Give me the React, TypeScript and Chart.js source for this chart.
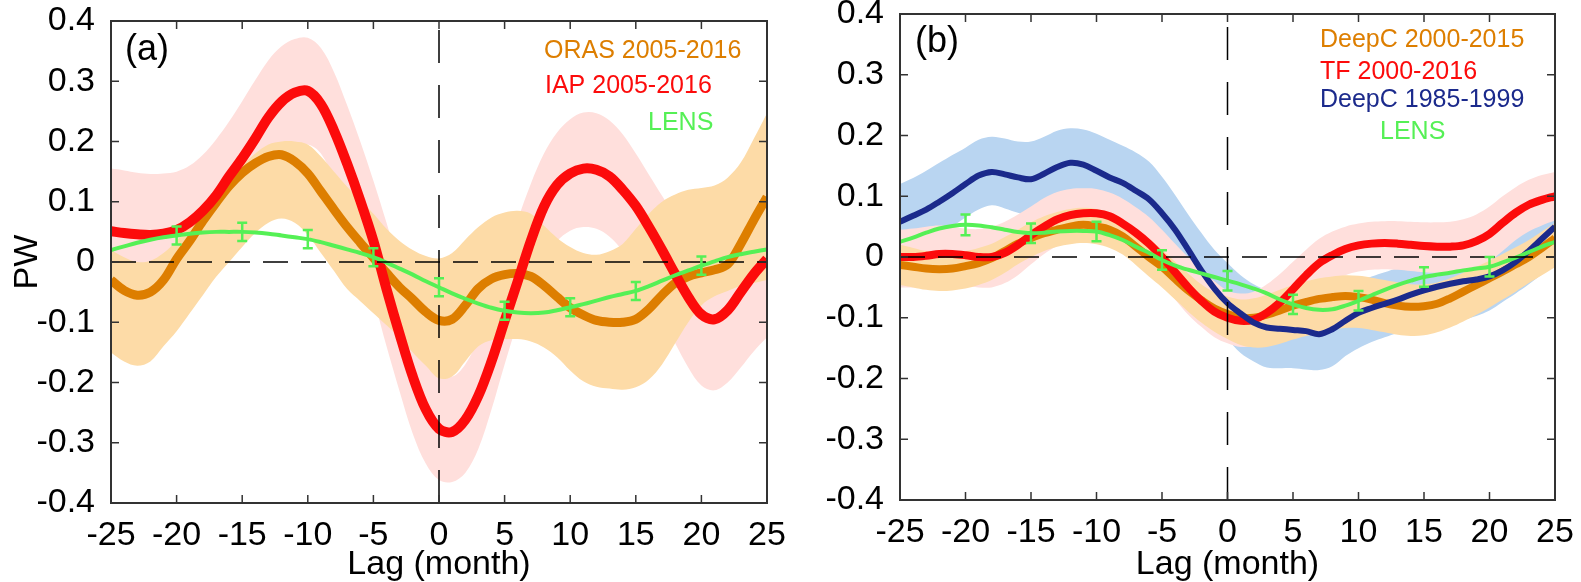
import React, { useEffect, useRef } from 'react';
import { Chart, registerables } from 'chart.js';

Chart.register(...registerables);

// Lag axis (months)
const LAGS = [
  -25, -24, -23, -22, -21, -20, -19, -18, -17, -16, -15, -14, -13, -12, -11, -10, -9, -8, -7, -6, -5, -4, -3, -2, -1,
  0, 1, 2, 3, 4, 5, 6, 7, 8, 9, 10, 11, 12, 13, 14, 15, 16, 17, 18, 19, 20, 21, 22, 23, 24, 25,
];
const X_TICK_VALUES = [-25, -20, -15, -10, -5, 0, 5, 10, 15, 20, 25];
const X_TICK_LABELS = ['-25', '-20', '-15', '-10', '-5', '0', '5', '10', '15', '20', '25'];
const Y_TICK_VALUES = [-0.4, -0.3, -0.2, -0.1, 0, 0.1, 0.2, 0.3, 0.4];
const Y_TICK_LABELS = ['-0.4', '-0.3', '-0.2', '-0.1', '0', '0.1', '0.2', '0.3', '0.4'];
const ERR_LAGS = [-20, -15, -10, -5, 0, 5, 10, 15, 20];

// ---- Panel (a) ----
const ORAS_A = [
  -0.03, -0.047, -0.055, -0.05, -0.03, 0.005, 0.035, 0.068, 0.098, 0.126, 0.148, 0.164, 0.175, 0.178, 0.167, 0.147,
  0.117, 0.087, 0.058, 0.032, 0.007, -0.018, -0.042, -0.062, -0.083, -0.097, -0.095, -0.072, -0.044, -0.028, -0.021,
  -0.019, -0.024, -0.039, -0.058, -0.076, -0.088, -0.097, -0.1, -0.1, -0.095, -0.078, -0.055, -0.035, -0.024, -0.018,
  -0.013, -0.004, 0.03, 0.07, 0.108,
];
const ORAS_A_HI = [
  0.02, 0.008, 0.0, 0.002, 0.015, 0.035, 0.06, 0.085, 0.11, 0.135, 0.16, 0.18, 0.195, 0.2, 0.2, 0.195, 0.175, 0.15,
  0.125, 0.103, 0.08, 0.055, 0.035, 0.02, 0.01, 0.006, 0.015, 0.037, 0.058, 0.074, 0.082, 0.085, 0.08, 0.06, 0.04,
  0.025, 0.015, 0.012, 0.018, 0.03, 0.055, 0.08, 0.1, 0.112, 0.12, 0.123, 0.127, 0.14, 0.165, 0.205, 0.247,
];
const ORAS_A_LO = [
  -0.15, -0.165, -0.172, -0.165, -0.14, -0.115, -0.085, -0.055, -0.025, 0.0, 0.025, 0.048, 0.065, 0.072, 0.065, 0.045,
  0.015, -0.015, -0.045, -0.065, -0.085, -0.105, -0.125, -0.15, -0.172, -0.193, -0.19, -0.165, -0.14, -0.13, -0.128,
  -0.128, -0.132, -0.142, -0.158, -0.18, -0.198, -0.207, -0.21, -0.212, -0.208, -0.195, -0.17, -0.135, -0.1, -0.072,
  -0.057, -0.048, -0.04, -0.035, -0.03,
];
const IAP_A = [
  0.051, 0.048, 0.046, 0.045, 0.047, 0.053, 0.066, 0.085, 0.11, 0.142, 0.172, 0.205, 0.24, 0.266, 0.281, 0.284, 0.262,
  0.218, 0.163, 0.102, 0.035, -0.045, -0.12, -0.19, -0.245, -0.277, -0.282, -0.262, -0.222, -0.165, -0.098, -0.032,
  0.035, 0.092, 0.128, 0.147, 0.155, 0.153, 0.142, 0.12, 0.093, 0.058, 0.02, -0.02, -0.058, -0.087, -0.095, -0.08,
  -0.05, -0.02, 0.005,
];
const IAP_A_HI = [
  0.155, 0.152, 0.148, 0.146, 0.147, 0.15, 0.16, 0.178, 0.203, 0.233, 0.267, 0.302, 0.335, 0.358, 0.37, 0.372, 0.355,
  0.315, 0.26, 0.2, 0.135, 0.065, -0.01, -0.08, -0.14, -0.18, -0.19, -0.17, -0.128, -0.07, 0.0, 0.07, 0.13, 0.18, 0.215,
  0.237, 0.248, 0.247, 0.235, 0.212, 0.18, 0.145, 0.11, 0.075, 0.04, 0.015, 0.01, 0.025, 0.05, 0.08, 0.1,
];
const IAP_A_LO = [
  -0.05, -0.055, -0.058, -0.058, -0.055, -0.048, -0.035, -0.015, 0.012, 0.045, 0.08, 0.112, 0.145, 0.172, 0.19, 0.195,
  0.18, 0.135, 0.075, 0.01, -0.06, -0.14, -0.215, -0.285, -0.335, -0.362, -0.365, -0.35, -0.31, -0.245, -0.17, -0.1,
  -0.04, 0.005, 0.035, 0.052, 0.058, 0.055, 0.042, 0.018, -0.015, -0.055, -0.095, -0.135, -0.175, -0.205, -0.213, -0.2,
  -0.175, -0.148, -0.125,
];
const LENS_A = [
  0.02, 0.026, 0.032, 0.037, 0.041, 0.044, 0.047, 0.049, 0.05, 0.05, 0.05, 0.049, 0.047, 0.044, 0.041, 0.038, 0.033,
  0.027, 0.021, 0.015, 0.008, -0.001, -0.011, -0.021, -0.032, -0.042, -0.052, -0.061, -0.069, -0.076, -0.081, -0.084,
  -0.085, -0.084, -0.08, -0.075, -0.07, -0.064, -0.058, -0.053, -0.048, -0.04, -0.031, -0.022, -0.014, -0.006, 0.001,
  0.008, 0.013, 0.017, 0.021,
];
const LENS_A_ERR = [0.015, 0.015, 0.015, 0.015, 0.015, 0.015, 0.015, 0.015, 0.015];

// ---- Panel (b) ----
const DEEPC_B = [
  -0.013, -0.016, -0.019, -0.02, -0.019, -0.015, -0.01, -0.002, 0.01, 0.022, 0.031, 0.039, 0.045, 0.05, 0.053, 0.05,
  0.045, 0.034, 0.017, 0.0, -0.016, -0.036, -0.055, -0.071, -0.085, -0.094, -0.1, -0.1, -0.095, -0.088, -0.08, -0.074,
  -0.069, -0.066, -0.064, -0.066, -0.07, -0.076, -0.08, -0.082, -0.081, -0.077, -0.068, -0.057, -0.046, -0.035, -0.024,
  -0.012, 0.0, 0.015, 0.031,
];
const DEEPC_B_HI = [
  0.02, 0.015, 0.01, 0.008, 0.008, 0.01, 0.015, 0.022, 0.033, 0.045, 0.057, 0.067, 0.074, 0.079, 0.081, 0.079, 0.073,
  0.062, 0.047, 0.03, 0.012, -0.008, -0.027, -0.045, -0.058, -0.065, -0.07, -0.068, -0.062, -0.054, -0.046, -0.04,
  -0.035, -0.032, -0.03, -0.031, -0.034, -0.038, -0.042, -0.045, -0.045, -0.042, -0.035, -0.026, -0.016, -0.006, 0.005,
  0.016, 0.028, 0.042, 0.056,
];
const DEEPC_B_LO = [
  -0.046, -0.05, -0.054, -0.056, -0.055, -0.052, -0.046, -0.038, -0.026, -0.012, 0.0, 0.01, 0.017, 0.021, 0.023, 0.021,
  0.015, 0.004, -0.013, -0.032, -0.05, -0.07, -0.09, -0.108, -0.123, -0.135, -0.145, -0.149, -0.148, -0.143, -0.136,
  -0.13, -0.125, -0.12, -0.117, -0.117, -0.12, -0.124, -0.128, -0.13, -0.129, -0.124, -0.116, -0.106, -0.095, -0.083,
  -0.07, -0.057, -0.043, -0.03, -0.017,
];
const TF_B = [
  0.0, 0.0, 0.002, 0.005, 0.005, 0.003, 0.0, 0.0, 0.007, 0.02, 0.036, 0.05, 0.062, 0.069, 0.072, 0.072, 0.067, 0.055,
  0.04, 0.022, 0.0, -0.025, -0.05, -0.072, -0.09, -0.1, -0.105, -0.103, -0.092, -0.075, -0.053, -0.03, -0.01, 0.003,
  0.013, 0.019, 0.022, 0.023, 0.022, 0.02, 0.018, 0.017, 0.017, 0.019, 0.026, 0.038, 0.056, 0.073, 0.086, 0.094, 0.1,
];
const TF_B_HI = [
  0.045, 0.047, 0.05, 0.052, 0.05, 0.047, 0.046, 0.05, 0.058, 0.07, 0.083, 0.097, 0.107, 0.112, 0.113, 0.112, 0.106,
  0.096, 0.082, 0.066, 0.045, 0.022, 0.0, -0.02, -0.04, -0.055, -0.06, -0.057, -0.045, -0.028, -0.008, 0.012, 0.03,
  0.042, 0.05, 0.055, 0.058, 0.059, 0.059, 0.058, 0.057, 0.057, 0.058, 0.062, 0.07, 0.083, 0.1, 0.115, 0.127, 0.135,
  0.14,
];
const TF_B_LO = [
  -0.05, -0.05, -0.048, -0.045, -0.045, -0.047, -0.05, -0.05, -0.043, -0.03, -0.012, 0.005, 0.018, 0.026, 0.03, 0.03,
  0.025, 0.013, -0.003, -0.022, -0.045, -0.07, -0.095, -0.115, -0.132, -0.142, -0.148, -0.146, -0.136, -0.12, -0.1,
  -0.077, -0.055, -0.04, -0.03, -0.024, -0.021, -0.02, -0.021, -0.023, -0.025, -0.026, -0.026, -0.024, -0.018, -0.007,
  0.01, 0.028, 0.042, 0.052, 0.06,
];
const EARLY_B = [
  0.058, 0.068, 0.078, 0.091, 0.105, 0.12, 0.134, 0.14, 0.136, 0.131, 0.128, 0.137, 0.148, 0.155, 0.152, 0.142, 0.131,
  0.122, 0.109, 0.095, 0.072, 0.045, 0.012, -0.022, -0.052, -0.076, -0.093, -0.108, -0.116, -0.118, -0.12, -0.122,
  -0.127, -0.119, -0.105, -0.092, -0.084, -0.077, -0.07, -0.062, -0.055, -0.049, -0.044, -0.04, -0.037, -0.032, -0.022,
  -0.008, 0.01, 0.03, 0.05,
];
const EARLY_B_HI = [
  0.12, 0.13, 0.142, 0.155, 0.168, 0.18, 0.193, 0.198, 0.195, 0.19, 0.19, 0.198, 0.208, 0.212, 0.21, 0.203, 0.193,
  0.183, 0.172, 0.157, 0.132, 0.102, 0.07, 0.04, 0.012, -0.01, -0.03, -0.045, -0.055, -0.06, -0.062, -0.065, -0.068,
  -0.06, -0.05, -0.04, -0.032, -0.025, -0.018, -0.012, -0.006, -0.002, 0.0, 0.002, 0.005, 0.01, 0.02, 0.035, 0.055,
  0.075, 0.095,
];
const EARLY_B_LO = [
  0.0, 0.01, 0.022, 0.035, 0.05, 0.065, 0.078, 0.085, 0.08, 0.073, 0.068, 0.075, 0.085, 0.092, 0.09, 0.082, 0.07, 0.06,
  0.046, 0.032, 0.012, -0.012, -0.045, -0.08, -0.11, -0.135, -0.158, -0.172, -0.182, -0.183, -0.183, -0.185, -0.186,
  -0.18, -0.163, -0.15, -0.14, -0.132, -0.125, -0.118, -0.113, -0.108, -0.105, -0.103, -0.097, -0.088, -0.074, -0.06,
  -0.045, -0.028, -0.01,
];
const LENS_B = [
  0.025, 0.032, 0.04, 0.047, 0.051, 0.053, 0.052, 0.049, 0.045, 0.041, 0.039, 0.04, 0.042, 0.043, 0.043, 0.042, 0.036,
  0.028, 0.017, 0.007, -0.005, -0.014, -0.021, -0.027, -0.033, -0.039, -0.045, -0.052, -0.06, -0.07, -0.078, -0.084,
  -0.087, -0.086, -0.08, -0.072, -0.063, -0.054, -0.046, -0.039, -0.033, -0.029, -0.026, -0.022, -0.019, -0.016,
  -0.009, -0.001, 0.008, 0.017, 0.025,
];
const LENS_B_ERR = [0.017, 0.016, 0.016, 0.016, 0.016, 0.016, 0.016, 0.016, 0.016];

const ORANGE = '#dd7e00';
const ORANGE_BAND = '#fddba7';
const RED = '#fc0b0b';
const PINK_BAND = '#ffdfdc';
const GREEN = '#55f055';
const NAVY = '#1b2a8c';
const BLUE_BAND = '#b9d5f1';
const FONT = '"Liberation Sans", Arial, Helvetica, sans-serif';

const CANVAS_H = 582;

function pts(values: number[]) {
  return LAGS.map((x, i) => ({ x, y: values[i] }));
}

function bandSets(hi: number[], lo: number[], color: string) {
  const common = {
    borderWidth: 0,
    borderColor: 'transparent',
    pointRadius: 0,
    tension: 0.35,
    clip: 0,
  };
  return [
    { ...common, data: pts(hi), backgroundColor: color, fill: '+1' },
    { ...common, data: pts(lo), backgroundColor: color, fill: false },
  ];
}

function lineSet(values: number[], color: string, width: number) {
  return {
    data: pts(values),
    borderColor: color,
    borderWidth: width,
    pointRadius: 0,
    tension: 0.35,
    fill: false,
    clip: 0,
    borderCapStyle: 'butt',
    borderJoinStyle: 'round',
  };
}

type LegendEntry = { text: string; color: string; dx: number; dy: number };
type PanelSpec = {
  label: string;
  labelDx: number;
  labelDy: number;
  legend: LegendEntry[];
  lens: number[];
  err: number[];
};

function makeFramePlugin(spec: PanelSpec) {
  return {
    id: 'frame',
    afterDatasetsDraw(chart: any) {
      const { ctx, chartArea: a, scales } = chart;
      const x = scales.x;
      const y = scales.y;
      ctx.save();

      // dashed zero lines
      ctx.strokeStyle = '#000';
      ctx.lineWidth = 1.5;
      ctx.setLineDash([25, 13]);
      const y0 = y.getPixelForValue(0);
      ctx.beginPath();
      ctx.moveTo(a.left, y0);
      ctx.lineTo(a.right, y0);
      ctx.stroke();
      ctx.setLineDash([33, 22]);
      const x0 = x.getPixelForValue(0);
      ctx.beginPath();
      ctx.moveTo(x0, a.bottom);
      ctx.lineTo(x0, a.top);
      ctx.stroke();
      ctx.setLineDash([]);

      // ensemble spread bars
      ctx.strokeStyle = GREEN;
      ctx.lineWidth = 2.5;
      ERR_LAGS.forEach((lag, i) => {
        const c = spec.lens[LAGS.indexOf(lag)];
        const px = x.getPixelForValue(lag);
        const top = y.getPixelForValue(c + spec.err[i]);
        const bot = y.getPixelForValue(c - spec.err[i]);
        ctx.beginPath();
        ctx.moveTo(px, top);
        ctx.lineTo(px, bot);
        ctx.moveTo(px - 5, top);
        ctx.lineTo(px + 5, top);
        ctx.moveTo(px - 5, bot);
        ctx.lineTo(px + 5, bot);
        ctx.stroke();
      });

      // frame and inward ticks
      ctx.strokeStyle = '#333';
      ctx.lineWidth = 2;
      ctx.strokeRect(a.left, a.top, a.right - a.left, a.bottom - a.top);
      ctx.lineWidth = 1.5;
      const tl = 8;
      ctx.beginPath();
      X_TICK_VALUES.forEach((v) => {
        const px = x.getPixelForValue(v);
        ctx.moveTo(px, a.bottom);
        ctx.lineTo(px, a.bottom - tl);
        ctx.moveTo(px, a.top);
        ctx.lineTo(px, a.top + tl);
      });
      Y_TICK_VALUES.forEach((v) => {
        const py = y.getPixelForValue(v);
        ctx.moveTo(a.left, py);
        ctx.lineTo(a.left + tl, py);
        ctx.moveTo(a.right, py);
        ctx.lineTo(a.right - tl, py);
      });
      ctx.stroke();

      // panel tag and key
      ctx.textAlign = 'left';
      ctx.textBaseline = 'middle';
      ctx.fillStyle = '#000';
      ctx.font = `36px ${FONT}`;
      ctx.fillText(spec.label, a.left + spec.labelDx, a.top + spec.labelDy);
      ctx.font = `25px ${FONT}`;
      spec.legend.forEach((e) => {
        ctx.fillStyle = e.color;
        ctx.fillText(e.text, a.left + e.dx, a.top + e.dy);
      });
      ctx.restore();
    },
  };
}

type Layout = {
  width: number;
  yAxisWidth: number;
  padRight: number;
  padTop: number;
  xAxisHeight: number;
  yTitle: string;
};

function makeConfig(datasets: any[], layout: Layout, spec: PanelSpec) {
  const n = datasets.length;
  datasets.forEach((d, i) => {
    d.order = n - i;
  });
  return {
    type: 'line',
    data: { datasets },
    plugins: [makeFramePlugin(spec)],
    options: {
      animation: false,
      responsive: false,
      maintainAspectRatio: false,
      events: [],
      layout: { padding: { left: 0, right: layout.padRight, top: layout.padTop, bottom: 0 } },
      plugins: { legend: { display: false }, tooltip: { enabled: false } },
      scales: {
        x: {
          type: 'linear',
          min: -25,
          max: 25,
          grid: { display: false, drawTicks: false },
          border: { display: false },
          afterBuildTicks: (s: any) => {
            s.ticks = X_TICK_VALUES.map((value) => ({ value }));
          },
          afterFit: (s: any) => {
            s.height = layout.xAxisHeight;
            s.paddingLeft = 0;
            s.paddingRight = 0;
          },
          ticks: {
            padding: 12,
            maxRotation: 0,
            autoSkip: false,
            color: '#000',
            font: { family: FONT, size: 34 },
            callback: (_v: any, i: number) => X_TICK_LABELS[i],
          },
          title: {
            display: true,
            text: 'Lag (month)',
            color: '#000',
            font: { family: FONT, size: 34, lineHeight: 1 },
            padding: { top: 0, bottom: 0 },
          },
        },
        y: {
          type: 'linear',
          min: -0.4,
          max: 0.4,
          grid: { display: false, drawTicks: false },
          border: { display: false },
          afterBuildTicks: (s: any) => {
            s.ticks = Y_TICK_VALUES.map((value) => ({ value }));
          },
          afterFit: (s: any) => {
            s.width = layout.yAxisWidth;
            s.paddingTop = 0;
            s.paddingBottom = 0;
          },
          ticks: {
            padding: 16,
            autoSkip: false,
            color: '#000',
            font: { family: FONT, size: 34 },
            callback: (_v: any, i: number) => Y_TICK_LABELS[i],
          },
          title: {
            display: layout.yTitle !== '',
            text: layout.yTitle,
            color: '#000',
            font: { family: FONT, size: 34, lineHeight: 1 },
            padding: { top: 11, bottom: 0 },
          },
        },
      },
    },
  };
}

const LAYOUT_A: Layout = { width: 790, yAxisWidth: 111, padRight: 23, padTop: 21, xAxisHeight: 79, yTitle: 'PW' };
const LAYOUT_B: Layout = { width: 791, yAxisWidth: 110, padRight: 26, padTop: 14, xAxisHeight: 82, yTitle: '' };

const SPEC_A: PanelSpec = {
  label: '(a)',
  labelDx: 14,
  labelDy: 29,
  legend: [
    { text: 'ORAS 2005-2016', color: ORANGE, dx: 433, dy: 30 },
    { text: 'IAP 2005-2016', color: RED, dx: 434, dy: 65 },
    { text: 'LENS', color: GREEN, dx: 537, dy: 102 },
  ],
  lens: LENS_A,
  err: LENS_A_ERR,
};

const SPEC_B: PanelSpec = {
  label: '(b)',
  labelDx: 15,
  labelDy: 28,
  legend: [
    { text: 'DeepC 2000-2015', color: ORANGE, dx: 420, dy: 26 },
    { text: 'TF 2000-2016', color: RED, dx: 420, dy: 58 },
    { text: 'DeepC 1985-1999', color: NAVY, dx: 420, dy: 86 },
    { text: 'LENS', color: GREEN, dx: 480, dy: 118 },
  ],
  lens: LENS_B,
  err: LENS_B_ERR,
};

function datasetsA() {
  return [
    ...bandSets(IAP_A_HI, IAP_A_LO, PINK_BAND),
    ...bandSets(ORAS_A_HI, ORAS_A_LO, ORANGE_BAND),
    lineSet(ORAS_A, ORANGE, 9),
    lineSet(IAP_A, RED, 10),
    lineSet(LENS_A, GREEN, 4),
  ];
}

function datasetsB() {
  return [
    ...bandSets(EARLY_B_HI, EARLY_B_LO, BLUE_BAND),
    ...bandSets(TF_B_HI, TF_B_LO, PINK_BAND),
    ...bandSets(DEEPC_B_HI, DEEPC_B_LO, ORANGE_BAND),
    lineSet(DEEPC_B, ORANGE, 8),
    lineSet(TF_B, RED, 8),
    lineSet(EARLY_B, NAVY, 6),
    lineSet(LENS_B, GREEN, 4),
  ];
}

function Panel({ left, layout, build, spec }: { left: number; layout: Layout; build: () => any[]; spec: PanelSpec }) {
  const ref = useRef<HTMLCanvasElement>(null);
  useEffect(() => {
    if (!ref.current) return;
    const chart = new Chart(ref.current, makeConfig(build(), layout, spec) as any);
    return () => chart.destroy();
  }, []);
  return (
    <canvas
      ref={ref}
      width={layout.width}
      height={CANVAS_H}
      style={{ position: 'absolute', left, top: 0, width: layout.width, height: CANVAS_H }}
    />
  );
}

export default function App() {
  useEffect(() => {
    document.body.style.margin = '0';
  }, []);
  return (
    <div style={{ position: 'fixed', left: 0, top: 0, width: 1581, height: CANVAS_H, background: '#fff' }}>
      <Panel left={0} layout={LAYOUT_A} build={datasetsA} spec={SPEC_A} />
      <Panel left={790} layout={LAYOUT_B} build={datasetsB} spec={SPEC_B} />
    </div>
  );
}
